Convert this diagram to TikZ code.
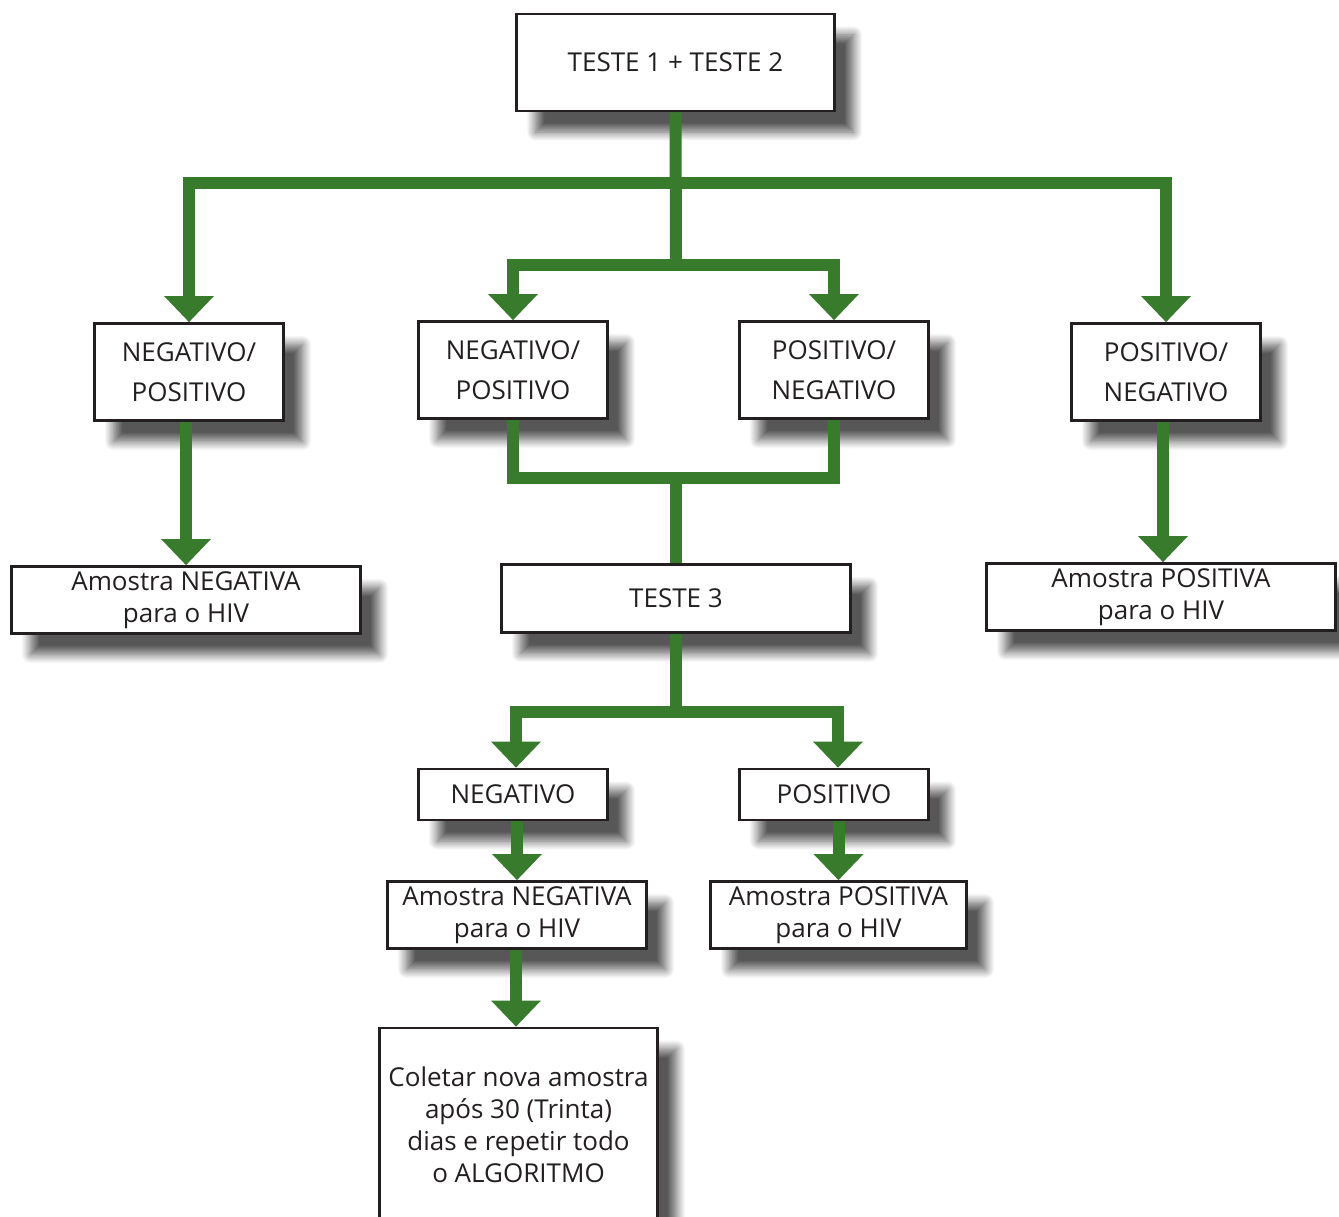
\documentclass[tikz,border=0pt]{standalone}
\usepackage{fontspec}
\setmainfont{Open Sans}
\usetikzlibrary{arrows.meta,shadows.blur}
\definecolor{flowgreen}{HTML}{387B2D}
\definecolor{txt}{HTML}{231F20}
\tikzset{
  box/.style={draw=txt, line width=2.6pt, fill=white, align=center, inner sep=0pt,
    text=txt, font=\fontsize{26}{32}\selectfont,
    blur shadow={shadow xshift=19pt, shadow yshift=-21pt, shadow blur radius=9pt, shadow opacity=66, shadow blur steps=14}},
  tall/.style={font=\fontsize{26}{40}\selectfont},
  conn/.style={draw=flowgreen, line width=12pt, line join=miter},
  arr/.style={conn, -{Triangle[width=48pt,length=26pt]}}
}
\begin{document}
\begin{tikzpicture}[x=1pt,y=-1pt]
\useasboundingbox (0,0) rectangle (1339,1217);
% nodes
\node[box, minimum width=318pt, minimum height=97pt] (t12) at (675.5,62.5) {TESTE 1 + TESTE 2};
\node[box, tall, minimum width=189pt, minimum height=97pt] (nl1) at (189,372) {NEGATIVO/\\POSITIVO};
\node[box, tall, minimum width=189pt, minimum height=97pt] (np1) at (513,370) {NEGATIVO/\\POSITIVO};
\node[box, tall, minimum width=189pt, minimum height=97pt] (pn1) at (834,370) {POSITIVO/\\NEGATIVO};
\node[box, tall, minimum width=189pt, minimum height=97pt] (pn2) at (1166,372) {POSITIVO/\\NEGATIVO};
\node[box, minimum width=349pt, minimum height=67pt] (an1) at (186,600) {Amostra NEGATIVA\\para o HIV};
\node[box, minimum width=349pt, minimum height=68pt] (t3) at (676,598.5) {TESTE 3};
\node[box, minimum width=349pt, minimum height=67pt] (ap1) at (1161,597) {Amostra POSITIVA\\para o HIV};
\node[box, minimum width=189pt, minimum height=51pt] (neg) at (513,794.5) {NEGATIVO};
\node[box, minimum width=189pt, minimum height=51pt] (pos) at (834,794.5) {POSITIVO};
\node[box, minimum width=259pt, minimum height=67pt] (an2) at (517,915) {Amostra NEGATIVA\\para o HIV};
\node[box, minimum width=256pt, minimum height=67pt] (ap2) at (838.5,915) {Amostra POSITIVA\\para o HIV};
\node[box, minimum width=278pt, minimum height=194pt] (col) at (518.5,1125) {Coletar nova amostra\\após 30 (Trinta)\\dias e repetir todo\\o ALGORITMO};
% junctions
\coordinate (hub) at (676,183);
\coordinate (hub2) at (676,265);
\coordinate (m) at (676,478);
\coordinate (m2) at (676,712);
% connectors
\draw[conn] (t12.south) -- (hub2);
\draw[arr] (hub) -| (nl1.north);
\draw[arr] (hub) -| (pn2.north);
\draw[arr] (hub2) -| (np1.north);
\draw[arr] (hub2) -| (pn1.north);
\draw[conn] (np1.south) |- (m);
\draw[conn] (pn1.south) |- (m);
\draw[conn] (m) -- (t3.north);
\draw[arr] ([xshift=-3pt]nl1.south) -- ([xshift=-3pt]nl1.south |- an1.north);
\draw[arr] ([xshift=-3pt]pn2.south) -- ([xshift=-3pt]pn2.south |- ap1.north);
\draw[conn] (t3.south) -- (m2);
\draw[arr] (m2) -| ([xshift=3pt]neg.north);
\draw[arr] (m2) -| ([xshift=4pt]pos.north);
\draw[arr] (an2.north |- neg.south) -- (an2.north);
\draw[arr] (ap2.north |- pos.south) -- (ap2.north);
\draw[arr] ([xshift=-1pt]an2.south) -- ([xshift=-1pt]an2.south |- col.north);
\end{tikzpicture}
\end{document}
